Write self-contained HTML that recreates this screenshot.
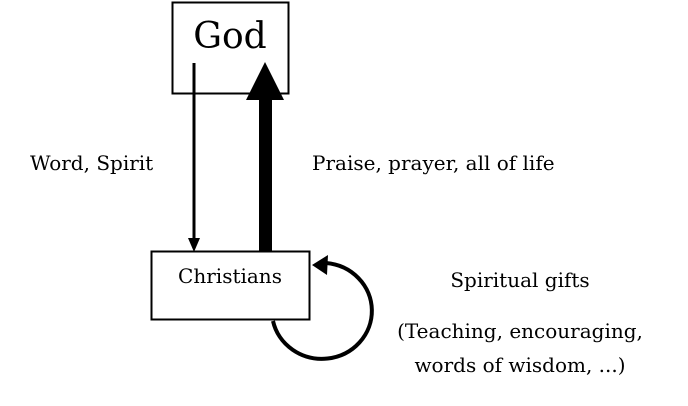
<!DOCTYPE html>
<html><head><meta charset="utf-8"><style>
html,body{margin:0;padding:0;background:#fff;width:688px;height:406px;overflow:hidden}
text{font-family:"DejaVu Serif","Liberation Serif",serif;fill:#000}
</style></head><body>
<svg width="688" height="406" viewBox="0 0 688 406">
<rect x="172.5" y="2.5" width="116" height="91" fill="#fff" stroke="#000" stroke-width="2"/>
<text x="230" y="48" font-size="36" text-anchor="middle">God</text>
<rect x="151.5" y="251.5" width="158" height="68" fill="#fff" stroke="#000" stroke-width="2"/>
<text x="230" y="283" font-size="20" text-anchor="middle">Christians</text>
<g>
<line x1="194" y1="63" x2="194" y2="240" stroke="#000" stroke-width="3"/>
<path d="M188,238 L200,238 L194,252 Z" fill="#000"/>
</g>
<g>
<rect x="259" y="98" width="13" height="154" fill="#000"/>
<path d="M246,100 L284,100 L265,62 Z" fill="#000"/>
</g>
<g>
<path d="M273,321 A50,48 0 1 0 326,263" fill="none" stroke="#000" stroke-width="4"/>
<path d="M312,265 L328,255 L327,275 Z" fill="#000"/>
</g>
<text x="30" y="170" font-size="20">Word, Spirit</text>
<text x="312" y="170" font-size="20">Praise, prayer, all of life</text>
<text x="520" y="287" font-size="20" text-anchor="middle">Spiritual gifts</text>
<text x="520" y="338" font-size="20" text-anchor="middle">(Teaching, encouraging,</text>
<text x="520" y="372" font-size="20" text-anchor="middle">words of wisdom, ...)</text>
</svg>
</body></html>
